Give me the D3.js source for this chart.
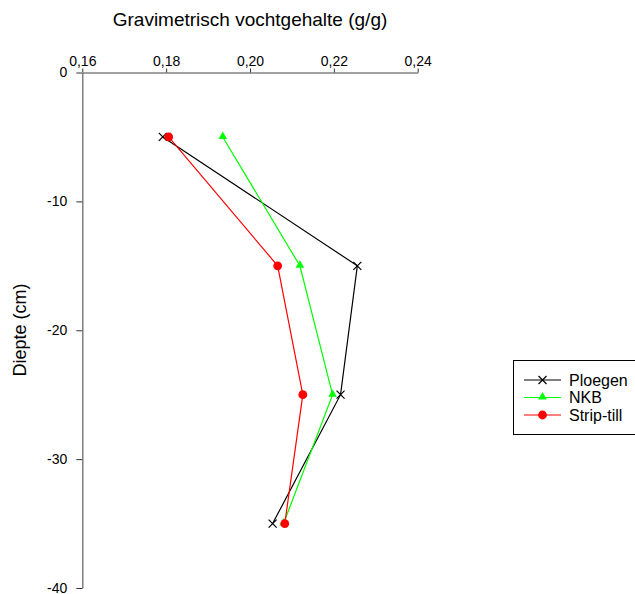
<!DOCTYPE html>
<html>
<head>
<meta charset="utf-8">
<script src="https://cdn.jsdelivr.net/npm/d3@7/dist/d3.min.js"></script>
<style>
  html, body { margin: 0; padding: 0; background: #fff; }
  svg { display: block; font-family: "Liberation Sans", Arial, sans-serif; }
</style>
</head>
<body>
<div id="chart"></div>
<script>
// depths (cm) and moisture content (g/g) per tillage treatment
var depths = [-5, -15, -25, -35];
var ploegen = [0.1792, 0.2256, 0.2216, 0.2054];
var nkb = [0.1935, 0.2119, 0.2197, 0.2080];
var stripTill = [0.1806, 0.2066, 0.2126, 0.2083];
var xTicks = [0.16, 0.18, 0.20, 0.22, 0.24];
var yTicks = [0, -10, -20, -30, -40];

var series = [
  { name: "Ploegen", values: ploegen, color: "#000000", marker: "x" },
  { name: "NKB", values: nkb, color: "#00ff00", marker: "tri" },
  { name: "Strip-till", values: stripTill, color: "#ff0000", marker: "dot" }
];

var W = 635, H = 594;
var svg = d3.select("#chart").append("svg").attr("width", W).attr("height", H);

var x = d3.scaleLinear().domain([0.16, 0.24]).range([82.3, 417.7]);
var y = d3.scaleLinear().domain([0, -40]).range([72.5, 588]);
var fmt = function (d) { return d3.format(".2f")(d).replace(".", ","); };

// top x axis, ticks pointing up
var gx = svg.append("g").attr("transform", "translate(0," + y(0) + ")")
  .call(d3.axisTop(x).tickValues(xTicks).tickFormat(fmt).tickSize(4).tickSizeOuter(0));
// left y axis (plain hyphen, not the unicode minus)
var gy = svg.append("g").attr("transform", "translate(" + x(0.16) + ",0)")
  .call(d3.axisLeft(y).tickValues(yTicks).tickFormat(function (d) { return String(d); })
    .tickSize(6).tickSizeOuter(0));

[gx, gy].forEach(function (g) {
  g.selectAll(".tick line").attr("stroke", "#333");
  g.selectAll(".tick text").attr("fill", "#000").style("font-size", "14px")
    .style("font-family", "Liberation Sans, Arial, sans-serif");
});
gx.select(".domain").attr("stroke", "#444").attr("stroke-width", 1.2);
gy.select(".domain").attr("stroke", "#777").attr("stroke-width", 1.4);
gx.selectAll(".tick text").attr("dy", "0.05em");
gy.selectAll(".tick text").attr("x", -15);

svg.append("text").attr("x", 250).attr("y", 26).attr("text-anchor", "middle")
  .style("font-size", "19px").text("Gravimetrisch vochtgehalte (g/g)");
svg.append("text").attr("transform", "translate(26,330) rotate(-90)")
  .attr("text-anchor", "middle").style("font-size", "18px").text("Diepte (cm)");

function drawMarker(g, type, color, cx, cy) {
  if (type === "x") {
    var s = 4;
    g.append("path").attr("d", "M" + (cx - s) + "," + (cy - s) + "L" + (cx + s) + "," + (cy + s) +
      "M" + (cx - s) + "," + (cy + s) + "L" + (cx + s) + "," + (cy - s))
      .attr("stroke", color).attr("stroke-width", 1.2).attr("fill", "none");
  } else if (type === "tri") {
    g.append("path").attr("d", d3.symbol(d3.symbolTriangle, 32)())
      .attr("transform", "translate(" + cx + "," + (cy - 0.5) + ")").attr("fill", color);
  } else {
    g.append("circle").attr("cx", cx).attr("cy", cy).attr("r", 4.4).attr("fill", color);
  }
}

var line = d3.line().x(function (d) { return x(d[0]); }).y(function (d) { return y(d[1]); });

series.forEach(function (s) {
  var pts = s.values.map(function (v, i) { return [v, depths[i]]; });
  var g = svg.append("g");
  g.append("path").attr("d", line(pts)).attr("fill", "none")
    .attr("stroke", s.color).attr("stroke-width", 1.2);
  pts.forEach(function (p) { drawMarker(g, s.marker, s.color, x(p[0]), y(p[1])); });
});

// legend
var lg = svg.append("g");
lg.append("rect").attr("x", 513.5).attr("y", 360.5).attr("width", 130).attr("height", 74)
  .attr("fill", "#fff").attr("stroke", "#000").attr("stroke-width", 1);
series.forEach(function (s, i) {
  var ly = 380 + i * 17.5;
  lg.append("line").attr("x1", 524).attr("x2", 561).attr("y1", ly).attr("y2", ly)
    .attr("stroke", s.color).attr("stroke-width", 1.2);
  drawMarker(lg, s.marker, s.color, 542.5, ly);
  lg.append("text").attr("x", 569).attr("y", ly + 5.5).style("font-size", "16px").text(s.name);
});
</script>
</body>
</html>
